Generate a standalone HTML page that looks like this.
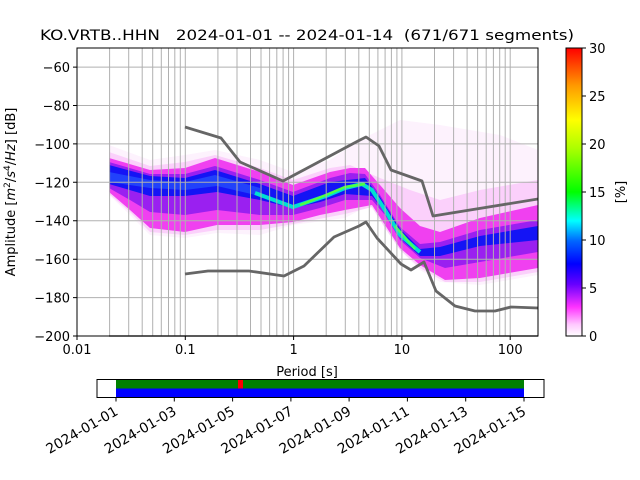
<!DOCTYPE html>
<html><head><meta charset="utf-8"><style>
html,body{margin:0;padding:0;background:#fff;}
svg{display:block;font-family:"DejaVu Sans","Liberation Sans",sans-serif;}
</style></head><body>
<svg width="640" height="480" viewBox="0 0 640 480" xmlns="http://www.w3.org/2000/svg">
<defs>
<linearGradient id="cb" x1="0" y1="1" x2="0" y2="0">
<stop offset="0" stop-color="#ffffff"/>
<stop offset="0.04" stop-color="#ffc8ff"/>
<stop offset="0.1" stop-color="#ff33ff"/>
<stop offset="0.18" stop-color="#6600ff"/>
<stop offset="0.25" stop-color="#0000ff"/>
<stop offset="0.33" stop-color="#0066ff"/>
<stop offset="0.4" stop-color="#00ffff"/>
<stop offset="0.5" stop-color="#00ff00"/>
<stop offset="0.65" stop-color="#aaff00"/>
<stop offset="0.75" stop-color="#ffff00"/>
<stop offset="0.87" stop-color="#ff9900"/>
<stop offset="1" stop-color="#ff0000"/>
</linearGradient>
<clipPath id="ax"><rect x="77" y="48" width="461" height="288"/></clipPath>
</defs>

<text x="307" y="40" font-size="14" text-anchor="middle" xml:space="preserve" textLength="534" lengthAdjust="spacingAndGlyphs">KO.VRTB..HHN   2024-01-01 -- 2024-01-14  (671/671 segments)</text>

<g clip-path="url(#ax)">
<path d="M109,145 L150,160 L185,155 L215,150 L260,160 L293,172 L330,160 L360,140 L400,120 L440,125 L500,135 L538,150 L538,275 L480,285 L440,282 L420,270 L400,250 L385,228 L370,205 L345,218 L293,225 L260,235 L217,233 L185,238 L150,235 L130,215 L109,195 Z" fill="#fdf2fd"/>
<path d="M109,152 L150,166 L185,162 L215,155 L260,168 L293,180 L330,168 L350,165 L380,178 L410,190 L440,200 L480,190 L538,180 L538,272 L480,282 L445,282 L420,268 L400,250 L385,228 L372,207 L345,214 L293,224 L260,230 L217,230 L185,235 L150,232 L130,212 L109,194 Z" fill="#fbd0fb"/>
<path d="M109,158 L150,170 L185,168 L215,158 L260,172 L293,185 L330,172 L350,168 L365,168 L380,185 L400,208 L420,226 L440,232 L480,218 L538,205 L538,268 L480,278 L445,280 L420,265 L400,248 L385,225 L372,205 L345,210 L320,215 L293,222 L260,225 L217,225 L185,232 L150,228 L130,210 L109,192 Z" fill="#f040f0"/>
<path d="M109,162 L150,174 L185,174 L215,166 L260,180 L293,192 L330,178 L350,173 L365,174 L380,195 L400,227 L420,244 L440,242 L480,230 L538,220 L538,252 L480,262 L445,268 L420,258 L400,240 L385,215 L372,200 L345,200 L320,208 L293,215 L260,215 L217,210 L185,215 L150,212 L130,200 L109,188 Z" fill="#9a20f0"/>
<path d="M109,165 L150,176 L185,178 L215,170 L260,184 L293,196 L330,182 L365,178 L380,197 L400,229 L420,249 L440,247 L480,236 L538,226 L538,240 L480,246 L440,256 L420,256 L400,238 L385,212 L372,196 L345,194 L320,202 L293,208 L260,200 L217,192 L185,196 L150,196 L109,184 Z" fill="#1414f5"/>
<path d="M109,172 L150,180 L185,182 L215,175 L260,188 L260,196 L217,186 L185,190 L150,188 L109,182 Z" fill="#2a60ff" opacity="0.6"/>
<path d="M255,193 L293,207 L326,196 L345,188 L362,184 L372,190 L385,210 L400,235 L420,252" fill="none" stroke="#00e0d0" stroke-width="4"/>
<path d="M300,205 L326,195 L345,187 L365,184" fill="none" stroke="#50ff40" stroke-width="2.5"/>
<path d="M395,226 L415,249" fill="none" stroke="#40ff60" stroke-width="2.5"/>
</g>

<g stroke="#b0b0b0" stroke-width="1">
<path d="M109.6,48V336M128.7,48V336M142.2,48V336M152.7,48V336M161.3,48V336M168.5,48V336M174.8,48V336M180.3,48V336
M185.3,48V336M217.9,48V336M237,48V336M250.5,48V336M261,48V336M269.6,48V336M276.8,48V336M283.1,48V336M288.6,48V336
M293.6,48V336M326.2,48V336M345.3,48V336M358.8,48V336M369.3,48V336M377.9,48V336M385.1,48V336M391.4,48V336M396.9,48V336
M401.9,48V336M434.5,48V336M453.6,48V336M467.1,48V336M477.6,48V336M486.2,48V336M493.4,48V336M499.7,48V336M505.2,48V336M510.2,48V336"/>
<path d="M77,297.6H538M77,259.2H538M77,220.7H538M77,182.3H538M77,143.9H538M77,105.5H538M77,67.1H538"/>
</g>

<g fill="none" stroke="#666" stroke-width="2.8" stroke-linejoin="round" clip-path="url(#ax)">
<polyline points="185,127 221,138 240,162 283,181 358,141 366,137 379,146 391,170 422,181 433,216 538,199"/>
<polyline points="185,274 208,271 249,271 284,276 304,266 334,237 359,226 366,222 377,238 401,264 411,270 424,262 436,291 455,306 475,311 495,311 511,307 538,308"/>
</g>
<line x1="109" y1="336" x2="538" y2="336" stroke="#666" stroke-width="1.5"/>

<rect x="77" y="48" width="461" height="288" fill="none" stroke="#000" stroke-width="1"/>
<g stroke="#000" stroke-width="1">
<path d="M77,336v4M185.3,336v4M293.6,336v4M401.9,336v4M510.2,336v4"/>
<path d="M77,336h-4M77,297.6h-4M77,259.2h-4M77,220.7h-4M77,182.3h-4M77,143.9h-4M77,105.5h-4M77,67.1h-4"/>
</g>
<g font-size="13" text-anchor="middle">
<text x="77" y="354">0.01</text><text x="185.3" y="354">0.1</text><text x="293.6" y="354">1</text><text x="401.9" y="354">10</text><text x="510.2" y="354">100</text>
<text x="307" y="376">Period [s]</text>
</g>
<g font-size="13" text-anchor="end">
<text x="70" y="341">−200</text><text x="70" y="302.6">−180</text><text x="70" y="264.2">−160</text><text x="70" y="225.7">−140</text><text x="70" y="187.3">−120</text><text x="70" y="148.9">−100</text><text x="70" y="110.5">−80</text><text x="70" y="72.1">−60</text>
</g>
<text transform="translate(15,192) rotate(-90)" font-size="13" text-anchor="middle">Amplitude [<tspan font-style="italic">m</tspan><tspan font-size="9" dy="-5">2</tspan><tspan dy="5">/</tspan><tspan font-style="italic">s</tspan><tspan font-size="9" dy="-5">4</tspan><tspan dy="5">/</tspan><tspan font-style="italic">Hz</tspan>] [dB]</text>

<rect x="566" y="48" width="16" height="288" fill="url(#cb)" stroke="#000" stroke-width="1"/>
<g stroke="#000"><path d="M582,336h4M582,288h4M582,240h4M582,192h4M582,144h4M582,96h4M582,48h4"/></g>
<g font-size="13">
<text x="589" y="341">0</text><text x="589" y="293">5</text><text x="589" y="245">10</text><text x="589" y="197">15</text><text x="589" y="149">20</text><text x="589" y="101">25</text><text x="589" y="53">30</text>
</g>
<text transform="translate(625,192) rotate(-90)" font-size="13" text-anchor="middle">[%]</text>

<rect x="116" y="380" width="408" height="8.5" fill="#008000"/>
<rect x="116" y="388.5" width="408" height="8.5" fill="#0000ff"/>
<rect x="238" y="380" width="5" height="8.5" fill="#ff0000"/>
<rect x="97" y="379.5" width="447" height="18" fill="none" stroke="#000" stroke-width="1"/>
<g stroke="#000"><path d="M116,397.5v4M174.3,397.5v4M232.6,397.5v4M290.9,397.5v4M349.1,397.5v4M407.4,397.5v4M465.7,397.5v4M524,397.5v4"/></g>
<g font-size="13.8" text-anchor="end">
<text transform="translate(119,414) rotate(-30)">2024-01-01</text>
<text transform="translate(177.3,414) rotate(-30)">2024-01-03</text>
<text transform="translate(235.6,414) rotate(-30)">2024-01-05</text>
<text transform="translate(293.9,414) rotate(-30)">2024-01-07</text>
<text transform="translate(352.1,414) rotate(-30)">2024-01-09</text>
<text transform="translate(410.4,414) rotate(-30)">2024-01-11</text>
<text transform="translate(468.7,414) rotate(-30)">2024-01-13</text>
<text transform="translate(527,414) rotate(-30)">2024-01-15</text>
</g>
</svg>
</body></html>
